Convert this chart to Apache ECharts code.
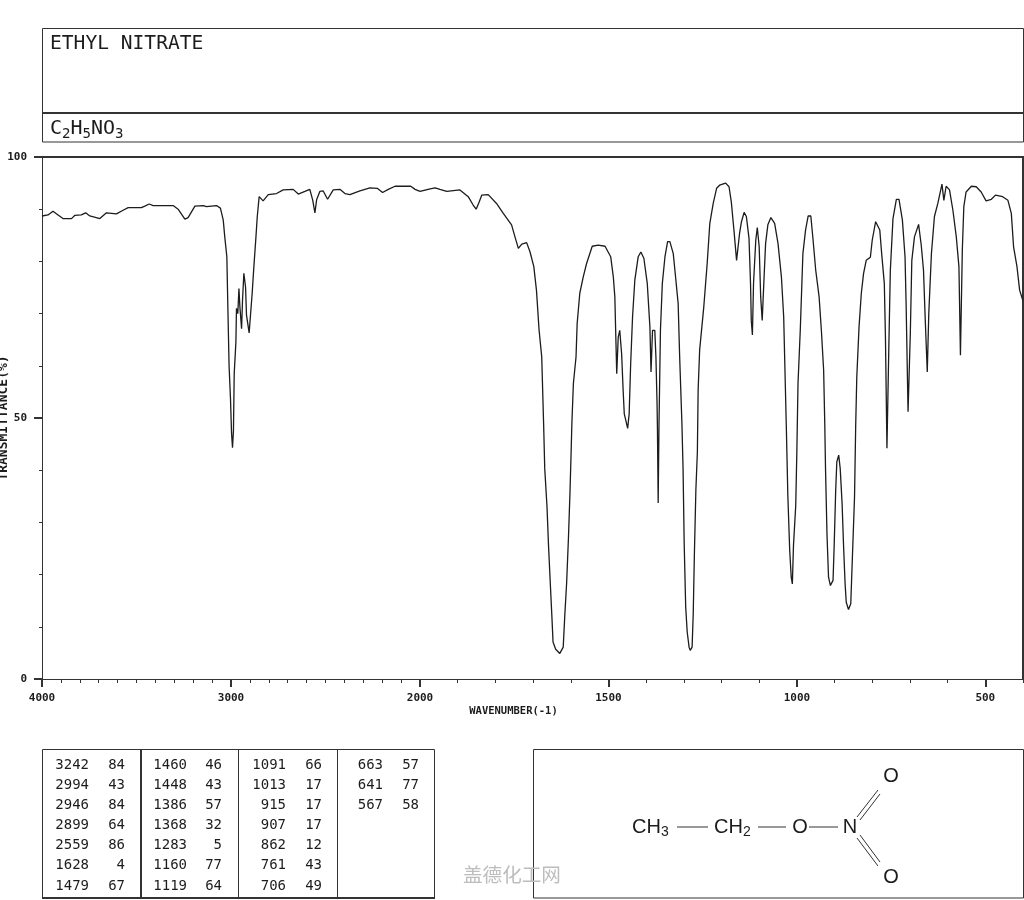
<!DOCTYPE html>
<html>
<head>
<meta charset="utf-8">
<title>ETHYL NITRATE</title>
<style>
html, body { margin: 0; padding: 0; background: #fff; }
#main { width: 1024px; height: 900px; }
</style>
<script src="https://cdn.jsdelivr.net/npm/echarts@6/dist/echarts.min.js"></script>
</head>
<body>
<div id="main"></div>
<script>
// 4000-2000 cm-1 runs at half the scale of 2000-400, so each part gets its own grid
var waveHigh = [4000, 3995, 3968, 3942, 3915, 3889, 3844, 3827, 3792, 3769, 3747, 3694, 3659, 3606, 3571, 3544, 3474, 3456, 3433, 3412, 3306, 3280, 3244, 3227, 3191, 3147, 3130, 3077, 3056, 3041, 3033, 3022, 3017, 3010, 3003, 2997, 2992, 2987, 2983, 2974, 2971, 2964, 2958, 2953, 2944, 2939, 2932, 2923, 2918, 2904, 2897, 2888, 2879, 2868, 2861, 2851, 2830, 2803, 2759, 2724, 2671, 2644, 2609, 2583, 2568, 2556, 2547, 2530, 2512, 2489, 2459, 2424, 2397, 2371, 2318, 2265, 2226, 2198, 2168, 2132, 2049, 2026, 2000];
var transHigh = [88.7, 88.7, 88.9, 89.6, 88.9, 88.2, 88.2, 88.8, 88.9, 89.3, 88.7, 88.2, 89.3, 89.1, 89.8, 90.3, 90.3, 90.6, 91.0, 90.7, 90.7, 90.0, 88.1, 88.4, 90.6, 90.7, 90.5, 90.7, 90.2, 87.9, 84.7, 80.9, 71.9, 59.8, 54.0, 47.0, 44.3, 47.6, 58.5, 64.6, 71.0, 70.0, 74.8, 71.3, 67.1, 72.6, 77.7, 75.1, 69.7, 66.3, 66.5, 73.9, 79.0, 84.7, 88.6, 92.4, 91.6, 92.8, 93.0, 93.7, 93.8, 92.9, 93.4, 93.8, 91.8, 89.3, 91.8, 93.4, 93.5, 91.9, 93.7, 93.8, 93.0, 92.8, 93.5, 94.1, 94.0, 93.2, 93.8, 94.4, 94.4, 93.8, 93.4];

var waveLow = [2000, 1995, 1973, 1960, 1947, 1929, 1894, 1872, 1859, 1851, 1843, 1836, 1819, 1797, 1779, 1757, 1748, 1739, 1730, 1717, 1708, 1698, 1691, 1684, 1677, 1672, 1669, 1663, 1659, 1654, 1650, 1647, 1640, 1629, 1620, 1616, 1611, 1606, 1602, 1599, 1597, 1593, 1586, 1583, 1576, 1567, 1558, 1543, 1527, 1509, 1494, 1487, 1483, 1480, 1478, 1474, 1470, 1465, 1461, 1458, 1454, 1449, 1445, 1441, 1436, 1430, 1421, 1414, 1406, 1397, 1390, 1387, 1383, 1377, 1374, 1371, 1370, 1368, 1366, 1362, 1357, 1350, 1343, 1337, 1328, 1321, 1315, 1311, 1305, 1302, 1299, 1295, 1291, 1286, 1283, 1278, 1275, 1272, 1268, 1264, 1262, 1258, 1247, 1238, 1231, 1222, 1213, 1205, 1189, 1180, 1174, 1167, 1160, 1156, 1152, 1147, 1140, 1134, 1127, 1123, 1121, 1118, 1115, 1109, 1105, 1100, 1096, 1092, 1087, 1083, 1077, 1069, 1059, 1050, 1041, 1035, 1028, 1024, 1019, 1015, 1012, 1009, 1003, 1000, 997, 991, 984, 977, 970, 963, 957, 950, 941, 935, 929, 926, 924, 920, 916, 911, 904, 901, 897, 894, 889, 885, 880, 876, 872, 869, 863, 857, 853, 847, 844, 841, 835, 829, 823, 816, 805, 800, 791, 780, 775, 768, 765, 761, 756, 752, 745, 736, 729, 720, 713, 710, 705, 699, 695, 688, 677, 670, 664, 659, 654, 650, 643, 635, 626, 615, 610, 604, 595, 586, 577, 570, 566, 561, 557, 551, 537, 524, 511, 498, 484, 473, 454, 440, 431, 425, 416, 409, 402, 400];
var transLow = [93.4, 93.4, 93.9, 94.1, 93.8, 93.4, 93.7, 92.4, 90.8, 90.0, 91.4, 92.7, 92.8, 91.1, 89.2, 87.0, 84.7, 82.5, 83.3, 83.6, 81.8, 79.0, 74.5, 66.8, 61.7, 48.9, 40.3, 33.0, 25.6, 17.9, 11.9, 7.1, 5.7, 4.9, 6.1, 11.9, 18.3, 27.2, 35.8, 43.5, 49.0, 56.6, 61.7, 68.1, 73.9, 77.0, 79.6, 82.9, 83.1, 82.9, 80.9, 77.0, 73.2, 64.3, 58.5, 65.5, 66.8, 62.3, 55.3, 50.8, 49.6, 48.0, 50.8, 60.4, 69.4, 76.4, 80.9, 81.8, 80.6, 75.8, 67.5, 58.8, 66.8, 66.8, 61.7, 52.8, 48.0, 33.7, 48.0, 66.8, 75.8, 80.9, 83.8, 83.8, 81.5, 76.4, 71.9, 61.7, 48.9, 40.3, 25.9, 13.8, 9.0, 6.1, 5.5, 6.1, 12.5, 23.7, 36.2, 43.5, 55.3, 63.0, 71.3, 79.6, 87.3, 91.1, 94.0, 94.6, 95.0, 94.3, 91.4, 86.0, 80.2, 80.2, 85.4, 87.6, 89.4, 88.6, 84.4, 75.8, 68.7, 65.9, 75.8, 84.1, 86.5, 82.8, 73.2, 68.7, 77.0, 83.4, 87.0, 88.4, 87.3, 83.4, 77.0, 69.4, 48.3, 35.2, 24.6, 19.5, 18.2, 25.6, 33.3, 43.8, 56.6, 66.8, 81.5, 86.0, 88.7, 88.7, 84.1, 78.3, 73.2, 66.8, 59.2, 49.0, 40.3, 27.5, 19.5, 17.9, 18.9, 25.6, 36.1, 41.6, 42.9, 40.3, 33.6, 25.3, 18.2, 14.7, 13.3, 14.4, 22.7, 34.9, 48.3, 57.9, 67.5, 73.9, 77.7, 80.2, 80.8, 84.1, 87.6, 86.0, 81.5, 75.8, 65.5, 44.2, 63.6, 78.3, 88.2, 91.9, 91.9, 87.9, 80.9, 71.3, 51.2, 66.2, 80.2, 84.7, 87.1, 83.1, 78.3, 68.1, 58.8, 70.0, 81.5, 88.6, 91.1, 94.8, 91.7, 94.4, 93.7, 89.8, 84.7, 79.0, 62.0, 82.2, 90.5, 93.3, 94.4, 94.3, 93.3, 91.6, 91.9, 92.7, 92.4, 91.7, 89.2, 82.8, 79.0, 74.5, 72.9, 72.5];

var majorWaveHigh = [4000, 3000, 2000];
var majorWaveLow = [1500, 1000, 500];
var majorTrans = [0, 50, 100];

// peak table, one array per column of the printout
var peakWave = [
    ['3242', '2994', '2946', '2899', '2559', '1628', '1479'],
    ['1460', '1448', '1386', '1368', '1283', '1160', '1119'],
    ['1091', '1013', '915', '907', '862', '761', '706'],
    ['663', '641', '567']
];
var peakTrans = [
    ['84', '43', '84', '64', '86', '4', '67'],
    ['46', '43', '57', '32', '5', '77', '64'],
    ['66', '17', '17', '17', '12', '43', '49'],
    ['57', '77', '58']
];

var mono = '"DejaVu Sans Mono", monospace';
var ink = '#1c1c1c';

function pairs(xs, ys) {
    return xs.map(function (x, i) { return [x, ys[i]]; });
}
function plain(v) {
    return String(v);
}

function box(x, y, w, h, lineWidth) {
    return { type: 'rect', silent: true, shape: { x: x, y: y, width: w, height: h },
        style: { fill: 'none', stroke: '#333', lineWidth: lineWidth || 1 } };
}
function seg(x1, y1, x2, y2, lineWidth) {
    return { type: 'line', silent: true, shape: { x1: x1, y1: y1, x2: x2, y2: y2 },
        style: { stroke: '#333', lineWidth: lineWidth || 1 } };
}
function label(x, y, text, size, align, family, rich, weight) {
    return { type: 'text', silent: true, x: x, y: y, z: 5,
        style: { text: text, fill: ink, font: (weight ? weight + ' ' : '') + size + 'px ' + (family || mono),
            align: align || 'left', verticalAlign: 'middle', rich: rich } };
}

var graphics = [
    // title block
    box(42.5, 28.5, 981, 113.5),
    seg(42, 113, 1024, 113, 2),
    label(50, 44, 'ETHYL NITRATE', 19.6),
    label(50, 129, '{m|C}{s|2}{m|H}{s|5}{m|N}{m|O}{s|3}', 20, 'left', mono, {
        m: { fontSize: 20, fontFamily: 'DejaVu Sans Mono', fill: ink },
        s: { fontSize: 14, fontFamily: 'DejaVu Sans Mono', fill: ink, padding: [11, 0, 0, 0] }
    }),
    // top and right side of the plot frame
    seg(34, 157, 1024, 157, 2),
    seg(1023, 157, 1023, 679, 2),
    label(513.5, 711, 'WAVENUMBER(-1)', 10.5, 'center', mono, undefined, 'bold'),
    // peak table
    box(42.5, 749.5, 392, 148, 1),
    seg(42, 898, 435, 898, 2),
    seg(141, 749, 141, 898, 2),
    seg(238.5, 749, 238.5, 898, 1),
    seg(337.5, 749, 337.5, 898, 1),
    // structure box
    box(533.5, 749.5, 490, 148.5, 1),
    label(632, 827, '{m|CH}{s|3}', 20, 'left', 'Liberation Sans', {
        m: { fontSize: 20, fontFamily: 'Liberation Sans', fill: ink },
        s: { fontSize: 14, fontFamily: 'Liberation Sans', fill: ink, padding: [11, 0, 0, 0] }
    }),
    label(714, 827, '{m|CH}{s|2}', 20, 'left', 'Liberation Sans', {
        m: { fontSize: 20, fontFamily: 'Liberation Sans', fill: ink },
        s: { fontSize: 14, fontFamily: 'Liberation Sans', fill: ink, padding: [11, 0, 0, 0] }
    }),
    label(800, 827, 'O', 20, 'center', 'Liberation Sans'),
    label(850, 827, 'N', 20, 'center', 'Liberation Sans'),
    label(891, 776, 'O', 20, 'center', 'Liberation Sans'),
    label(891, 877, 'O', 20, 'center', 'Liberation Sans'),
    seg(677, 827, 708, 827),
    seg(758, 827, 786, 827),
    seg(809, 827, 838, 827),
    seg(857, 817, 878, 790),
    seg(860, 820, 880, 794),
    seg(857, 838, 878, 866),
    seg(860, 835, 880, 862)
];

var waveRight = [89, 187, 286, 383];
var transRight = [125, 222, 322, 419];
var rowY = [765, 785, 805, 825, 845, 865, 886];
peakWave.forEach(function (col, c) {
    col.forEach(function (v, r) {
        graphics.push(label(waveRight[c], rowY[r], v, 14, 'right'));
        graphics.push(label(transRight[c], rowY[r], peakTrans[c][r], 14, 'right'));
    });
});

graphics.push({ type: 'text', silent: true, x: 463, y: 875, z: 10,
    style: { text: '盖德化工网', fill: '#bdbdbd', font: '19.6px "Noto Sans CJK SC"', verticalAlign: 'middle' } });

var hideLabel = { show: false };
var thin = { lineStyle: { color: '#333', width: 1 } };

var myChart = echarts.init(document.getElementById('main'), null, { renderer: 'canvas' });

var option = {
    animation: false,
    backgroundColor: '#fff',
    grid: [
        { left: 42, top: 157, width: 378, height: 522, outerBoundsMode: 'none' },
        { left: 420, top: 157, width: 603, height: 522, outerBoundsMode: 'none' }
    ],
    xAxis: [
        // every 100 cm-1, short ticks
        { type: 'value', gridIndex: 0, inverse: true, min: 2000, max: 4000, interval: 100, position: 'bottom',
          splitLine: { show: false }, axisLine: Object.assign({ show: true, onZero: false }, thin),
          axisTick: Object.assign({ show: true, length: 4 }, thin), axisLabel: hideLabel },
        { type: 'value', gridIndex: 1, inverse: true, min: 400, max: 2000, interval: 100, position: 'bottom',
          splitLine: { show: false }, axisLine: Object.assign({ show: true, onZero: false }, thin),
          axisTick: Object.assign({ show: true, length: 4 }, thin), axisLabel: hideLabel },
        // labelled ticks
        { type: 'value', gridIndex: 0, inverse: true, min: 2000, max: 4000, position: 'bottom',
          splitLine: { show: false }, axisLine: { show: false },
          axisTick: { show: true, length: 8, customValues: majorWaveHigh, lineStyle: { color: '#333', width: 2 } },
          axisLabel: { customValues: majorWaveHigh, formatter: plain, margin: 14, color: ink, fontFamily: mono, fontSize: 11, fontWeight: 'bold', showMinLabel: true, showMaxLabel: true } },
        { type: 'value', gridIndex: 1, inverse: true, min: 400, max: 2000, position: 'bottom',
          splitLine: { show: false }, axisLine: { show: false },
          axisTick: { show: true, length: 8, customValues: majorWaveLow, lineStyle: { color: '#333', width: 2 } },
          axisLabel: { customValues: majorWaveLow, formatter: plain, margin: 14, color: ink, fontFamily: mono, fontSize: 11, fontWeight: 'bold' } }
    ],
    yAxis: [
        { type: 'value', gridIndex: 0, min: 0, max: 100, interval: 10, position: 'left',
          name: 'TRANSMITTANCE(%)', nameLocation: 'middle', nameGap: 32, nameRotate: 90,
          nameTextStyle: { color: ink, fontFamily: mono, fontSize: 13, fontWeight: 'bold' },
          splitLine: { show: false }, axisLine: Object.assign({ show: true, onZero: false }, thin),
          axisTick: Object.assign({ show: true, length: 3 }, thin), axisLabel: hideLabel },
        { type: 'value', gridIndex: 0, min: 0, max: 100, position: 'left',
          splitLine: { show: false }, axisLine: { show: false },
          axisTick: { show: true, length: 8, customValues: majorTrans, lineStyle: { color: '#333', width: 2 } },
          axisLabel: { customValues: majorTrans, margin: 15, color: ink, fontFamily: mono, fontSize: 11, fontWeight: 'bold' } },
        { type: 'value', gridIndex: 1, min: 0, max: 100, show: false }
    ],
    series: [
        { type: 'line', xAxisIndex: 0, yAxisIndex: 0, data: pairs(waveHigh, transHigh), symbol: 'none',
          lineStyle: { color: ink, width: 1.3 }, silent: true },
        { type: 'line', xAxisIndex: 1, yAxisIndex: 2, data: pairs(waveLow, transLow), symbol: 'none',
          lineStyle: { color: ink, width: 1.3 }, silent: true }
    ],
    graphic: graphics
};
myChart.setOption(option);
</script>
</body>
</html>
